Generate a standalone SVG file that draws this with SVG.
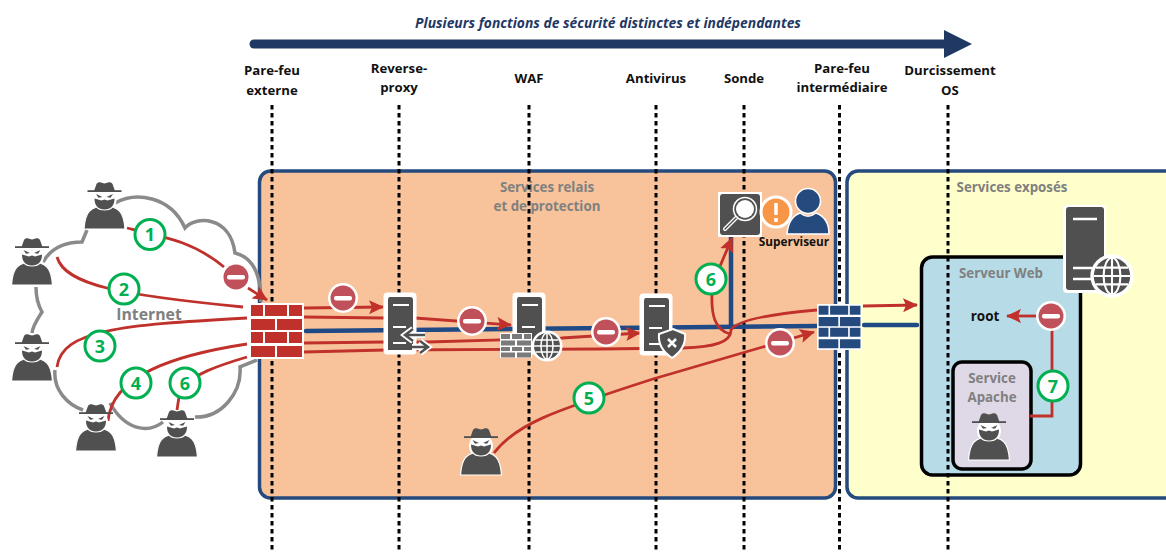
<svg xmlns="http://www.w3.org/2000/svg" xmlns:xlink="http://www.w3.org/1999/xlink" width="1166" height="552" viewBox="0 0 1166 552">
<style>
text{font-family:"Open Sans","Noto Sans","Liberation Sans",sans-serif;font-weight:700;text-anchor:middle}
.hd{font-size:13.200px;fill:#111}
.gr{font-size:13.300px;fill:#808080}
.num{font-size:18px;fill:#00b050}
.dash{stroke:#000;stroke-width:3;stroke-dasharray:4.5 3.5;fill:none}
.red{stroke:#c0312b;stroke-width:2.8;fill:none}
.blue{stroke:#1f4a85;stroke-width:4.5;fill:none;stroke-linecap:round}
.badge{fill:#fff;stroke:#00b050;stroke-width:3}
.dk{fill:#505050}
.wl{stroke:#fff;fill:none}
</style>
<defs>
<marker id="ah" markerUnits="userSpaceOnUse" markerWidth="16" markerHeight="14" refX="14" refY="7" orient="auto"><path d="M0,0L15,7L0,14L3,7Z" fill="#c0312b"/></marker>
<g id="hacker">
<circle cx="0" cy="18" r="12" fill="#fff"/>
<path class="dk" stroke="#fff" stroke-width="1.2" d="M-20.500,47C-20,40-19,33-15,29C-13,27-11,26-8,25C-5,29 5,29 8,25C11,26 13,27 15,29C19,33 20,40 20.500,47Z"/>
<path class="dk" d="M-10.500,9L-8,2C-7,0-4,0-2,1L0,1.500L2,1C4,0 7,0 8,2L10.500,9Z"/>
<rect x="-17" y="8.200" width="34" height="1.800" fill="#505050"/>
<path class="dk" d="M-10,16.500L-3,18.500L0,17.500L3,18.500L10,16.500C10,24 6,27.500 0,27.500C-6,27.500-10,24-10,16.500Z"/>
<path class="dk" d="M-8.500,12L-2,15L-6,15.800ZM8.500,12L2,15L6,15.800Z"/>
</g>
<g id="stop">
<circle r="15" fill="#fff"/><circle r="12.500" fill="#c0505a"/><rect x="-9" y="-2" width="18" height="4.500" rx="2" fill="#fff"/>
</g>
<g id="globe">
<circle r="15.500" fill="#fff"/><circle r="13" fill="#505050"/>
<g fill="none" stroke="#fff" stroke-width="1.500"><ellipse rx="6" ry="13"/><path d="M0-13V13M-13,0H13M-11.500-6H11.500M-11.500,6H11.500"/></g>
</g>
<g id="server">
<rect x="-1.500" y="-1.500" width="33" height="62" rx="4" fill="#fff"/>
<path class="dk" d="M5,3H25Q28,3 28,6V56H3V6Q3,3 5,3Z"/>
<path class="wl" stroke-width="1.800" d="M8,11H24M8,33H21M8,49H21"/>
</g>
<g id="wall">
<rect x="0" y="0" width="55" height="56" fill="#fff"/>
<path d="M2,2h12v11h-12zM16,2h22v11h-22zM40,2h13v11h-13zM2,16h24v11h-24zM28,16h25v11h-25zM2,29h12v11h-12zM16,29h22v11h-22zM40,29h13v11h-13zM2,43h24v11h-24zM28,43h25v11h-25z"/>
</g>
</defs>

<g id="title">
<path d="M254,44H945" stroke="#1f3864" stroke-width="9" stroke-linecap="round"/>
<path d="M944,30L972,44L944,58Z" fill="#1f3864"/>
<text x="608" y="28" style="font-size:13.850px;font-style:italic;fill:#1f3864">Plusieurs fonctions de sécurité distinctes et indépendantes</text>
</g>
<g id="zone-relais">
<rect x="259.500" y="171" width="576" height="327" rx="11" fill="#f8c39a" stroke="#254a7d" stroke-width="3.500"/>
<text class="gr" x="547" y="192">Services relais</text><text class="gr" x="547" y="211">et de protection</text>
</g>
<g id="zone-exposes">
<rect x="847" y="171" width="340" height="327" rx="11" fill="#ffffcc" stroke="#254a7d" stroke-width="3.500"/>
<text class="gr" x="1012" y="192">Services exposés</text>
</g>
<g id="serveur-web">
<rect x="921.500" y="257" width="159" height="218" rx="11" fill="#b7dbe7" stroke="#000" stroke-width="3.500"/>
<text class="gr" x="1001" y="278">Serveur Web</text>
<text x="985" y="321" style="font-size:13.500px;fill:#111">root</text>
</g>
<g id="service-apache">
<rect x="953" y="362" width="78" height="107" rx="9" fill="#dfd8e6" stroke="#000" stroke-width="3.500"/>
<text class="gr" x="992" y="383">Service</text><text class="gr" x="992" y="402">Apache</text>
</g>
<g id="axes">
<path class="dash" d="M272,105V552M399,105V552M529,105V552M656,105V552M744,105V552M839.500,105V552M948,105V552"/>
<text class="hd" x="272" y="75">Pare-feu</text><text class="hd" x="272" y="95">externe</text>
<text class="hd" x="399" y="73">Reverse-</text><text class="hd" x="399" y="92">proxy</text>
<text class="hd" x="529" y="83">WAF</text>
<text class="hd" x="656" y="83">Antivirus</text>
<text class="hd" x="744" y="83">Sonde</text>
<text class="hd" x="842" y="73">Pare-feu</text><text class="hd" x="842" y="92">intermédiaire</text>
<text class="hd" x="950" y="75">Durcissement</text><text class="hd" x="950" y="95">OS</text>
</g>

<g id="connectors">
<path fill="none" stroke="#8a8a8a" stroke-width="3.500" d="M115,203C135,192 170,195 185,228C195,216 230,215 235,253C252,257 261,272 261,302M257,360L240,367C242,392 222,418 195,417M163,422C148,434 125,430 110,403M83,410C68,405 53,390 55,370M32,333C33,325 37,320 42,312C38,305 36,298 36,287M43,262C50,250 62,242 82,242L87,230"/>
<path class="blue" d="M306,331L818,326M864,325H917M731,327V237"/>
<path class="red" d="M127,228C170,238 195,243 224,267"/>
<path class="red" marker-end="url(#ah)" d="M248,288L267,300"/>
<path class="red" d="M57,257C65,285 120,295 243,307"/>
<path class="red" d="M57,367C62,330 120,325 247,318"/>
<path class="red" d="M108,421C112,375 175,355 247,344"/>
<path class="red" d="M177,410L180,390C190,375 220,365 247,357"/>
<path class="red" marker-end="url(#ah)" d="M304,308L383,307"/>
<path class="red" marker-end="url(#ah)" d="M304,317L385,318M415,318L511,325"/>
<path class="red" marker-end="url(#ah)" d="M304,343L385,342H428L562,338L640,333"/>
<path class="red" d="M304,352L385,350L600,349L683,348C715,347 731,342 731,330C735,322 760,315 817,310"/>
<path class="red" marker-end="url(#ah)" d="M863,306L917,305"/>
<path class="red" marker-end="url(#ah)" d="M730,334C715,330 711,315 712,293C713,280 722,262 732,238"/>
<path class="red" marker-end="url(#ah)" d="M494,453C515,425 550,412 653,379L814,332"/>
<path class="red" marker-end="url(#ah)" d="M1037,316H1007"/>
<path class="red" d="M1030,416H1052V325"/>
</g>

<g id="internet"><text x="149" y="320" style="font-size:15.800px;fill:#808080">Internet</text></g>
<g id="attaquant-1"><use href="#hacker" x="104.500" y="182"/></g>
<g id="attaquant-2"><use href="#hacker" x="32" y="238"/></g>
<g id="attaquant-3"><use href="#hacker" x="32" y="334"/></g>
<g id="attaquant-4"><use href="#hacker" x="96" y="404"/></g>
<g id="attaquant-5"><use href="#hacker" x="481" y="428"/></g>
<g id="attaquant-6"><use href="#hacker" x="177" y="410"/></g>
<g id="attaquant-7"><use href="#hacker" x="989" y="413"/></g>

<g id="parefeu-externe"><use href="#wall" x="249" y="303" fill="#c0312b"/></g>
<g id="parefeu-intermediaire"><use href="#wall" x="817" y="304" fill="#254a7d" transform="translate(817 304) scale(.82) translate(-817 -304)"/></g>

<g id="reverse-proxy"><use href="#server" x="385" y="294"/>
<path d="M425,335H406M413,329L405,335L413,341M412,347H427M420,341L428,347L420,353" fill="none" stroke="#fff" stroke-width="6"/>
<path d="M425,335H406M413,329L405,335L413,341M412,347H427M420,341L428,347L420,353" fill="none" stroke="#505050" stroke-width="2.500"/>
</g>
<g id="waf"><use href="#server" x="514" y="294"/>
<rect x="500" y="333" width="32" height="25" fill="#fff"/>
<path d="M501,334h9v5h-9zM512,334h10v5h-10zM524,334h7v5h-7zM501,340.500h14v5h-14zM517,340.500h14v5h-14zM501,347h9v4h-9zM512,347h10v4h-10zM524,347h7v4h-7zM501,352.500h14v5h-14zM517,352.500h14v5h-14z" fill="#7a7a7a"/>
<use href="#globe" x="547" y="346"/></g>
<g id="antivirus"><use href="#server" x="641" y="295"/>
<path d="M673,329L685,334C686,345 681,352 672,358C663,352 658,345 659,334Z" fill="#505050" stroke="#fff" stroke-width="2"/>
<path d="M668,339L676,347M676,339L668,347" stroke="#fff" stroke-width="2.500"/></g>
<g id="sonde">
<rect x="718" y="192" width="44" height="45" fill="#fff"/><rect x="720" y="194" width="40" height="41" rx="3" fill="#505050"/>
<circle cx="745" cy="209" r="9" fill="#fff"/><circle cx="745" cy="209" r="11.500" fill="none" stroke="#fff" stroke-width="1.500"/>
<path d="M736,218L725,229" stroke="#fff" stroke-width="4" stroke-linecap="round"/><path d="M736,218L725,229" stroke="#505050" stroke-width="1.500" stroke-linecap="round"/>
</g>
<g id="superviseur">
<circle cx="776" cy="212" r="15" fill="#f79646" stroke="#fff" stroke-width="3"/>
<path d="M776,203V215M776,218V222" stroke="#fff" stroke-width="3.500"/>
<path d="M787,234C788,222 792,216 800,213C805,217 811,217 816,213C824,216 829,222 829,234Z" fill="#254a7d" stroke="#fff" stroke-width="1.500"/>
<circle cx="808" cy="201" r="12.500" fill="#254a7d" stroke="#fff" stroke-width="1.500"/>
<text x="794" y="246" style="font-size:11.800px;fill:#111">Superviseur</text>
</g>
<g id="serveur-exposes">
<rect x="1063" y="205" width="43" height="88" rx="4" fill="#fff"/><rect x="1066" y="207" width="38" height="83" rx="3" fill="#505050"/>
<path class="wl" stroke-width="2.500" d="M1073,219H1097M1073,268H1092M1073,279H1092"/>
<use href="#globe" transform="translate(1112 276) scale(1.400)"/>
</g>

<g id="blocages">
<use href="#stop" x="236" y="277"/><use href="#stop" x="343" y="298"/><use href="#stop" x="472" y="321"/><use href="#stop" x="606" y="332"/><use href="#stop" x="780" y="343"/><use href="#stop" x="1051" y="316"/>
</g>
<g id="etape-1"><circle class="badge" cx="150" cy="234.500" r="15"/><text class="num" x="150" y="241">1</text></g>
<g id="etape-2"><circle class="badge" cx="124" cy="289" r="15"/><text class="num" x="124" y="295.500">2</text></g>
<g id="etape-3"><circle class="badge" cx="100" cy="346" r="15"/><text class="num" x="100" y="352.500">3</text></g>
<g id="etape-4"><circle class="badge" cx="136" cy="383" r="15"/><text class="num" x="136" y="389.500">4</text></g>
<g id="etape-6a"><circle class="badge" cx="185" cy="383" r="15"/><text class="num" x="185" y="389.500">6</text></g>
<g id="etape-5"><circle class="badge" cx="589" cy="398" r="15"/><text class="num" x="589" y="404.500">5</text></g>
<g id="etape-6b"><circle class="badge" cx="711" cy="279" r="15"/><text class="num" x="711" y="285.500">6</text></g>
<g id="etape-7"><circle class="badge" cx="1053" cy="386" r="15"/><text class="num" x="1053" y="392.500">7</text></g>
</svg>
